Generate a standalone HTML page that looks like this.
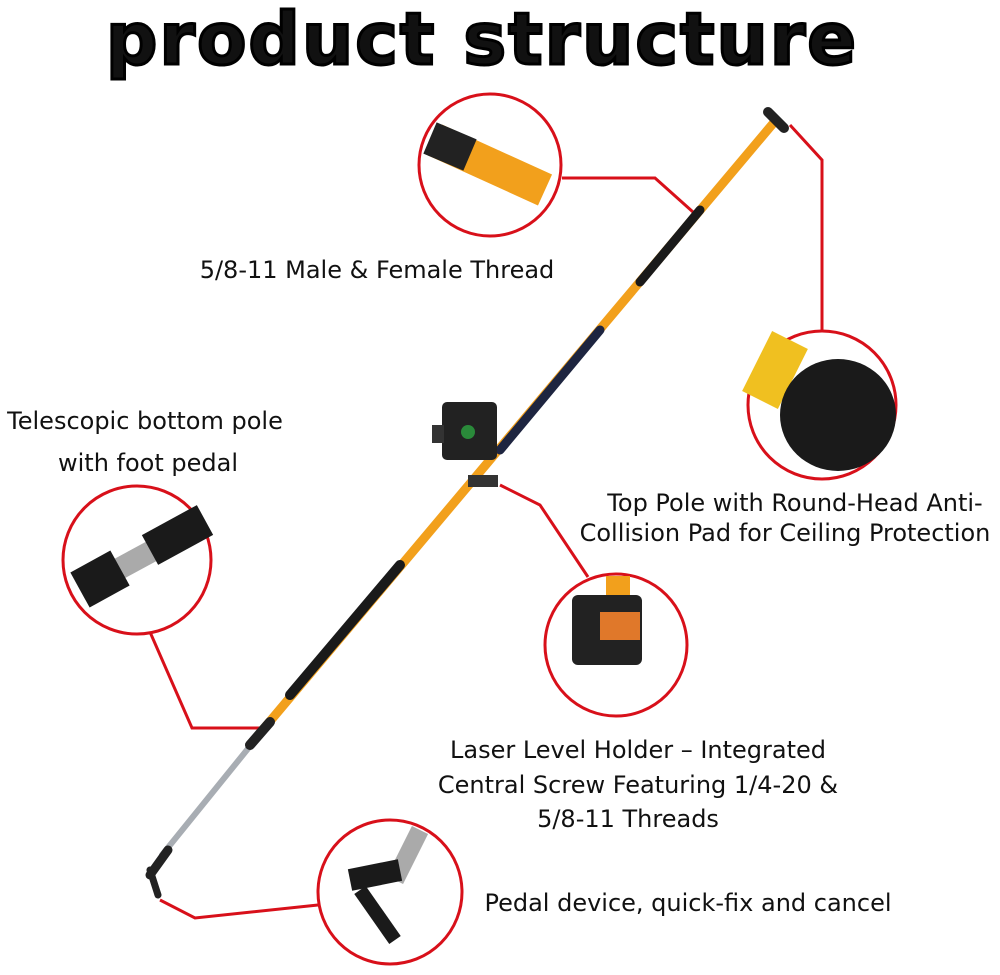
<!DOCTYPE html>
<html><head><meta charset="utf-8"><style>
html,body{margin:0;padding:0;background:#fff;}
svg{display:block}
text{font-family:"DejaVu Sans","Liberation Sans",sans-serif;fill:#111;}
</style></head><body>
<svg width="1000" height="975" viewBox="0 0 1000 975" xmlns="http://www.w3.org/2000/svg">
<text x="482" y="64" text-anchor="middle" font-size="72" font-weight="900" style="letter-spacing:2px" stroke="#000" stroke-width="3">product structure</text>

<g stroke="#d8101a" stroke-width="3" fill="none">
<polyline points="562,178 655,178 693,212"/>
<polyline points="822,330 822,160 790,125"/>
<polyline points="150,632 192,728 268,728"/>
<polyline points="500,485 540,505 588,577"/>
<polyline points="318,905 195,918 160,900"/>
</g>

<g stroke-linecap="round">
<line x1="776" y1="120" x2="250" y2="745" stroke="#f2a01c" stroke-width="9"/>
<line x1="700" y1="210" x2="640" y2="282" stroke="#1a1a1a" stroke-width="9"/>
<line x1="600" y1="330" x2="500" y2="450" stroke="#1e2540" stroke-width="9"/>
<line x1="400" y1="565" x2="290" y2="695" stroke="#1a1a1a" stroke-width="10"/>
<line x1="255" y1="740" x2="162" y2="855" stroke="#a8adb3" stroke-width="6"/>
<line x1="270" y1="722" x2="250" y2="745" stroke="#222" stroke-width="10"/>
<line x1="168" y1="850" x2="150" y2="875" stroke="#222" stroke-width="9"/>
<line x1="150" y1="870" x2="158" y2="895" stroke="#222" stroke-width="7"/>
<line x1="768" y1="112" x2="784" y2="128" stroke="#222" stroke-width="10"/>
</g>
<rect x="442" y="402" width="55" height="58" rx="5" fill="#222"/>
<circle cx="468" cy="432" r="7" fill="#2a8a3a"/>
<rect x="432" y="425" width="12" height="18" fill="#333"/>
<rect x="468" y="475" width="30" height="12" fill="#333"/>

<g stroke="#d8101a" stroke-width="3">
<circle cx="490" cy="165" r="71" fill="#fff"/>
<circle cx="822" cy="405" r="74" fill="#fff"/>
<circle cx="137" cy="560" r="74" fill="#fff"/>
<circle cx="616" cy="645" r="71" fill="#fff"/>
<circle cx="390" cy="892" r="72" fill="#fff"/>
</g>
<line x1="435" y1="140" x2="545" y2="190" stroke="#f2a01c" stroke-width="34"/>
<line x1="430" y1="138" x2="470" y2="155" stroke="#222" stroke-width="34"/>
<line x1="790" y1="340" x2="760" y2="400" stroke="#f0c020" stroke-width="40"/>
<ellipse cx="838" cy="415" rx="58" ry="56" fill="#1a1a1a"/>
<line x1="80" y1="590" x2="200" y2="525" stroke="#aaa" stroke-width="22"/>
<line x1="80" y1="590" x2="120" y2="568" stroke="#1a1a1a" stroke-width="40"/>
<line x1="150" y1="550" x2="205" y2="520" stroke="#1a1a1a" stroke-width="34"/>
<rect x="606" y="576" width="24" height="80" fill="#f2a01c"/>
<rect x="572" y="595" width="70" height="70" rx="6" fill="#222"/>
<rect x="600" y="612" width="40" height="28" fill="#e0782a"/>
<line x1="420" y1="830" x2="395" y2="880" stroke="#aaa" stroke-width="18"/>
<line x1="400" y1="870" x2="350" y2="880" stroke="#1a1a1a" stroke-width="22"/>
<line x1="360" y1="890" x2="395" y2="940" stroke="#1a1a1a" stroke-width="14"/>

<g font-size="24">
<text x="377" y="278" text-anchor="middle">5/8-11 Male &amp; Female Thread</text>
<text x="145" y="429" text-anchor="middle">Telescopic bottom pole</text>
<text x="148" y="471" text-anchor="middle">with foot pedal</text>
<text x="795" y="511" text-anchor="middle">Top Pole with Round-Head Anti-</text>
<text x="785" y="541" text-anchor="middle">Collision Pad for Ceiling Protection</text>
<text x="638" y="758" text-anchor="middle">Laser Level Holder – Integrated</text>
<text x="638" y="793" text-anchor="middle">Central Screw Featuring 1/4-20 &amp;</text>
<text x="628" y="827" text-anchor="middle">5/8-11 Threads</text>
<text x="688" y="911" text-anchor="middle">Pedal device, quick-fix and cancel</text>
</g>
</svg>
</body></html>
